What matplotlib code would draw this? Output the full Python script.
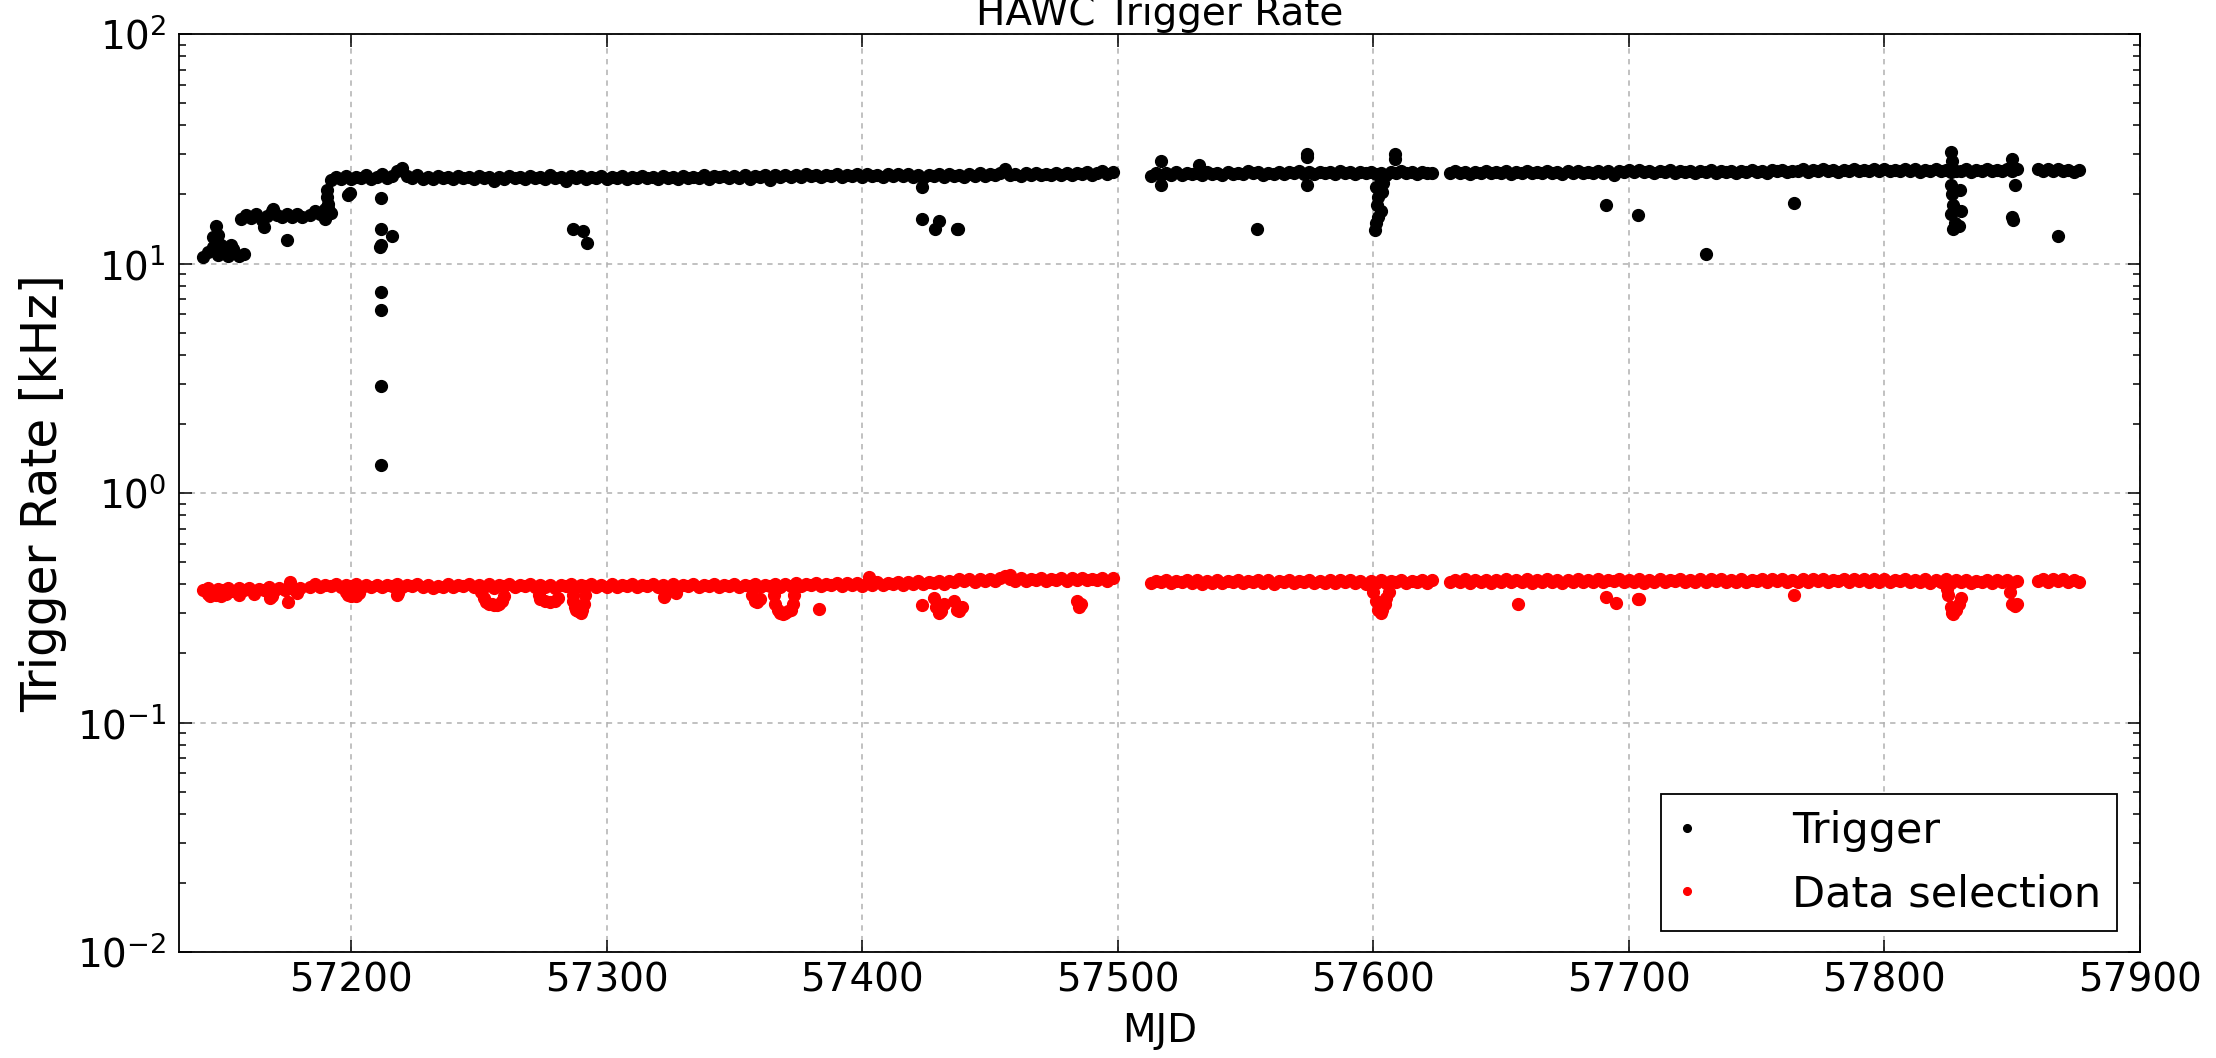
import numpy as np
import matplotlib
matplotlib.use("Agg")
import matplotlib.pyplot as plt

plt.rcParams["font.family"] = ["DejaVu Sans"]
plt.rcParams["axes.unicode_minus"] = False

STEP = 2  # days between band samples

# ---- Trigger rate [kHz], dense band, one value every STEP days per run
trig_starts = [57142, 57157, 57184, 57192, 57513, 57630, 57860]
trig_run1 = [10.7, 11.2, 11.8, 10.9, 11.3, 10.8, 11.4, 10.8, 11.0]
trig_run2 = [15.6, 16.2, 15.8, 16.4, 15.5, 16.1, 17.0, 16.3, 15.9, 16.5, 16.0, 16.4, 15.9]
trig_run3 = [16.3, 16.9, 16.5, 17.2, 16.6]
trig_run4 = [
    23.2, 23.9, 23.4, 24.1, 23.3, 23.8, 23.5, 24.2, 23.4, 23.9, 24.6, 23.5, 24.0, 25.2,
    26.0, 24.1, 23.6, 24.3, 23.4, 23.9, 23.3, 24.0, 23.5, 23.8, 23.4, 24.1, 23.6, 23.9,
    23.3, 24.0, 23.5, 23.8, 22.9, 23.9, 23.4, 24.1, 23.5, 23.9, 23.3, 24.0, 23.6, 23.8,
    23.4, 24.2, 23.5, 23.9, 22.8, 24.0, 23.6, 24.1, 23.4, 23.9, 23.5, 24.0, 23.3, 23.9,
    23.5, 24.0, 23.4, 23.9, 23.6, 24.1, 23.5, 23.8, 23.3, 24.0, 23.6, 23.9, 23.4, 24.1,
    23.6, 23.9, 23.5, 24.2, 23.4, 24.0, 23.7, 24.1, 23.5, 24.0, 23.6, 24.3, 23.4, 24.1,
    23.7, 24.3, 23.0, 24.2, 23.8, 24.4, 23.9, 24.3, 23.7, 24.5, 24.0, 24.4, 23.8, 24.3,
    24.0, 24.5, 23.9, 24.4, 24.1, 24.6, 23.9, 24.5, 24.0, 24.4, 23.9, 24.5, 24.1, 24.6,
    24.0, 24.5, 23.8, 24.4, 23.6, 24.3, 24.0, 24.6, 23.8, 24.5, 24.1, 24.4, 23.9, 24.6,
    24.1, 24.7, 24.0, 24.5, 24.2, 24.8, 25.8, 24.3, 24.6, 24.1, 24.7, 24.2, 24.9, 24.3,
    24.6, 24.2, 24.8, 24.4, 24.9, 24.3, 24.7, 24.5, 25.0, 24.4, 24.8, 25.3, 24.6, 25.0,
]
trig_run5 = [
    24.0, 24.8, 24.3, 24.9, 24.4, 25.0, 24.2, 24.8, 24.5, 24.9, 24.3, 25.0, 24.6, 24.9,
    24.4, 25.1, 24.6, 24.9, 24.5, 25.2, 24.7, 25.0, 24.4, 24.9, 24.6, 25.1, 24.5, 25.0,
    24.7, 25.2, 24.6, 25.0, 24.5, 25.1, 24.8, 25.0, 24.6, 25.2, 24.7, 25.0, 24.5, 25.1,
    24.8, 25.0, 24.6, 24.9, 24.4, 25.1, 24.7, 25.2, 24.8, 25.0, 24.6, 25.1, 24.7, 24.9,
]
trig_run6 = [
    24.7, 25.2, 24.8, 25.1, 24.6, 25.0, 24.9, 25.3, 24.7, 25.1, 24.8, 25.2, 24.6, 25.0,
    24.8, 25.2, 24.7, 25.1, 24.9, 25.3, 24.8, 25.0, 24.6, 25.2, 24.9, 25.3, 24.8, 25.1,
    24.9, 25.4, 24.7, 25.2, 24.4, 25.3, 25.0, 25.6, 25.1, 25.5, 25.0, 25.4, 24.9, 25.3,
    25.0, 25.5, 24.9, 25.3, 25.1, 25.4, 24.8, 25.3, 25.0, 25.5, 24.9, 25.3, 25.1, 25.4,
    24.9, 25.3, 25.0, 25.5, 25.1, 25.4, 24.9, 25.6, 25.2, 25.5, 25.0, 25.4, 25.2, 25.7,
    25.1, 25.6, 25.3, 25.7, 25.2, 25.5, 25.0, 25.6, 25.3, 25.8, 25.2, 25.6, 25.4, 25.9,
    25.3, 25.7, 25.2, 25.6, 25.4, 25.9, 25.3, 25.7, 25.1, 25.6, 25.4, 25.8, 25.2, 25.6,
    25.0, 25.4, 25.2, 25.7, 25.1, 25.5, 25.3, 25.8, 25.2, 25.6, 25.4, 25.9, 25.3, 25.7,
]
trig_run7 = [25.9, 25.4, 25.8, 25.3, 25.7, 25.2, 25.6, 25.1, 25.5]

# isolated trigger points (drops, spikes)
trig_extra_mjd = [
    57146, 57147, 57147.5, 57148, 57149, 57150, 57153, 57154, 57166, 57169.5, 57175,
    57190, 57190.5, 57190.5, 57191, 57191, 57199, 57199.8,
    57211.7, 57211.7, 57211.5, 57211.8, 57211.7, 57211.7, 57211.7, 57211.7, 57216.2,
    57286.8, 57290.7, 57292.5,
    57423.5, 57423.5, 57428.5, 57430, 57437, 57437.5,
    57517, 57517, 57532, 57554.7, 57574, 57574, 57574, 57608.5, 57608.5,
    57600.5, 57601, 57601, 57601.5, 57602, 57602, 57603, 57603.5, 57604,
    57691, 57703.4, 57730, 57764.5,
    57826, 57826.5, 57826, 57826.5, 57827, 57826, 57827.5, 57827, 57829, 57830, 57829.5,
    57850, 57850.2, 57850, 57851, 57867.8,
]
trig_extra_val = [
    13.0, 14.5, 12.5, 13.3, 12.0, 11.5, 12.0, 11.6, 14.4, 17.3, 12.6,
    15.6, 20.9, 19.5, 18.2, 17.4, 19.8, 20.2,
    19.2, 14.1, 11.8, 12.1, 7.5, 6.3, 2.92, 1.32, 13.2,
    14.2, 13.9, 12.3,
    21.6, 15.6, 14.1, 15.3, 14.2, 14.2,
    28.0, 22.0, 27.0, 14.2, 30.0, 29.0, 22.0, 30.0, 28.5,
    14.0, 15.0, 21.5, 18.0, 19.5, 16.0, 17.0, 20.5, 22.5,
    17.9, 16.3, 11.0, 18.4,
    30.5, 28.0, 22.0, 20.0, 18.0, 16.5, 15.0, 14.2, 14.5, 17.0, 21.0,
    16.0, 15.4, 28.5, 22.0, 13.2,
]

# ---- Data selection rate [kHz]
red_starts = [57142, 57184, 57513, 57630, 57860]
red_run1 = [0.376, 0.386, 0.372, 0.383, 0.378, 0.387, 0.374, 0.384, 0.377, 0.386,
            0.373, 0.383, 0.378, 0.388, 0.374, 0.384, 0.377, 0.386, 0.379, 0.387]
red_run2 = [
    0.391, 0.401, 0.388, 0.398, 0.393, 0.403, 0.389, 0.397, 0.392, 0.400, 0.387, 0.396, 0.391, 0.399,
    0.388, 0.397, 0.392, 0.401, 0.389, 0.398, 0.393, 0.402, 0.390, 0.397, 0.386, 0.395, 0.391, 0.400,
    0.389, 0.398, 0.392, 0.403, 0.388, 0.397, 0.391, 0.400, 0.387, 0.396, 0.392, 0.401, 0.389, 0.397,
    0.392, 0.402, 0.388, 0.398, 0.391, 0.399, 0.387, 0.397, 0.393, 0.401, 0.389, 0.398, 0.392, 0.400,
    0.388, 0.397, 0.391, 0.401, 0.389, 0.398, 0.393, 0.402, 0.390, 0.399, 0.392, 0.400, 0.389, 0.398,
    0.391, 0.401, 0.388, 0.399, 0.393, 0.402, 0.390, 0.398, 0.392, 0.403, 0.389, 0.399, 0.393, 0.401,
    0.390, 0.399, 0.392, 0.402, 0.389, 0.398, 0.393, 0.403, 0.391, 0.400, 0.394, 0.404, 0.392, 0.401,
    0.396, 0.405, 0.393, 0.403, 0.397, 0.406, 0.394, 0.404, 0.398, 0.407, 0.395, 0.405, 0.399, 0.408,
    0.398, 0.407, 0.401, 0.410, 0.399, 0.409, 0.402, 0.413, 0.400, 0.411, 0.404, 0.414, 0.402, 0.412,
    0.410, 0.420, 0.412, 0.422, 0.411, 0.421, 0.414, 0.424, 0.412, 0.428, 0.436, 0.423, 0.415, 0.425,
    0.413, 0.423, 0.416, 0.426, 0.414, 0.424, 0.417, 0.427, 0.415, 0.425, 0.418, 0.428, 0.416, 0.424,
    0.419, 0.427, 0.415, 0.425,
]
red_run3 = [
    0.405, 0.415, 0.408, 0.418, 0.404, 0.414, 0.409, 0.417, 0.406, 0.416, 0.403, 0.413, 0.407, 0.417,
    0.404, 0.414, 0.408, 0.418, 0.405, 0.415, 0.409, 0.419, 0.406, 0.416, 0.403, 0.414, 0.408, 0.417,
    0.405, 0.415, 0.409, 0.418, 0.404, 0.414, 0.407, 0.417, 0.405, 0.416, 0.409, 0.418, 0.406, 0.415,
    0.403, 0.413, 0.407, 0.416, 0.404, 0.415, 0.408, 0.417, 0.405, 0.414, 0.409, 0.418, 0.406, 0.416,
]
red_run4 = [
    0.408, 0.418, 0.411, 0.420, 0.407, 0.417, 0.410, 0.419, 0.406, 0.416, 0.411, 0.421, 0.408, 0.418,
    0.410, 0.420, 0.407, 0.417, 0.411, 0.421, 0.409, 0.419, 0.406, 0.418, 0.410, 0.420, 0.408, 0.419,
    0.411, 0.421, 0.408, 0.418, 0.412, 0.422, 0.409, 0.419, 0.411, 0.420, 0.407, 0.418, 0.410, 0.421,
    0.409, 0.419, 0.412, 0.422, 0.408, 0.418, 0.411, 0.421, 0.409, 0.420, 0.412, 0.422, 0.410, 0.419,
    0.411, 0.421, 0.408, 0.419, 0.412, 0.422, 0.410, 0.420, 0.413, 0.423, 0.409, 0.419, 0.411, 0.422,
    0.410, 0.420, 0.412, 0.423, 0.409, 0.419, 0.413, 0.422, 0.410, 0.421, 0.412, 0.423, 0.409, 0.420,
    0.411, 0.421, 0.408, 0.418, 0.412, 0.422, 0.409, 0.419, 0.411, 0.421, 0.407, 0.417, 0.410, 0.420,
    0.406, 0.416, 0.409, 0.419, 0.405, 0.415, 0.408, 0.418, 0.406, 0.417, 0.409, 0.419, 0.405, 0.414,
]
red_run5 = [0.412, 0.422, 0.410, 0.420, 0.413, 0.423, 0.409, 0.419, 0.411]

red_extra_mjd = [
    57144, 57145, 57147, 57149, 57151, 57156, 57162, 57168.5, 57169, 57175.3, 57176, 57179,
    57198, 57199, 57200, 57201, 57202, 57203, 57218, 57218.5,
    57251, 57252, 57253, 57254, 57255, 57256, 57257, 57258, 57259, 57260,
    57273.5, 57274, 57276, 57278, 57280, 57281,
    57286.8, 57287, 57287.5, 57288, 57289, 57290, 57290.5, 57291.3, 57291.5,
    57322.5, 57323, 57327, 57357, 57358, 57359, 57360,
    57365.5, 57366, 57367, 57368, 57369, 57370, 57371, 57372, 57373, 57373.5,
    57383, 57402.7, 57423.5, 57428, 57429, 57430, 57431, 57432,
    57436, 57437, 57438, 57439, 57458, 57484, 57485, 57485.5,
    57600, 57601, 57602, 57603, 57603.5, 57604.5, 57605, 57606,
    57656.5, 57691.2, 57695, 57703.6, 57704, 57764.7,
    57824.5, 57825, 57826, 57826.5, 57827, 57828, 57829, 57830,
    57849, 57850, 57851, 57852,
]
red_extra_val = [
    0.362, 0.356, 0.360, 0.357, 0.362, 0.360, 0.364, 0.348, 0.355, 0.336, 0.410, 0.365,
    0.372, 0.358, 0.356, 0.360, 0.357, 0.366, 0.360, 0.368,
    0.372, 0.350, 0.335, 0.330, 0.328, 0.326, 0.324, 0.330, 0.340, 0.355,
    0.360, 0.345, 0.338, 0.336, 0.338, 0.350,
    0.360, 0.340, 0.320, 0.310, 0.305, 0.300, 0.310, 0.330, 0.360,
    0.352, 0.360, 0.365, 0.360, 0.340, 0.336, 0.345,
    0.360, 0.330, 0.310, 0.300, 0.298, 0.300, 0.305, 0.310, 0.330, 0.360,
    0.313, 0.430, 0.325, 0.350, 0.320, 0.300, 0.305, 0.330,
    0.340, 0.310, 0.305, 0.320, 0.440, 0.340, 0.320, 0.330,
    0.370, 0.340, 0.310, 0.300, 0.310, 0.330, 0.350, 0.370,
    0.327, 0.353, 0.333, 0.344, 0.344, 0.360,
    0.380, 0.360, 0.320, 0.300, 0.297, 0.310, 0.330, 0.350,
    0.370, 0.330, 0.323, 0.330,
]


def build(starts, runs, extra_x, extra_y):
    xs, ys = [], []
    for s, vals in zip(starts, runs):
        xs.append(s + STEP * np.arange(len(vals)))
        ys.append(np.asarray(vals))
    xs.append(np.asarray(extra_x))
    ys.append(np.asarray(extra_y))
    return np.concatenate(xs), np.concatenate(ys)


trig_x, trig_y = build(trig_starts,
                       [trig_run1, trig_run2, trig_run3, trig_run4, trig_run5, trig_run6, trig_run7],
                       trig_extra_mjd, trig_extra_val)
red_x, red_y = build(red_starts, [red_run1, red_run2, red_run3, red_run4, red_run5],
                     red_extra_mjd, red_extra_val)

fig = plt.figure(figsize=(22.16, 10.58), dpi=100)
ax = fig.add_axes([178.7 / 2216, 1 - 952 / 1058, (2140 - 178.7) / 2216, (952 - 34) / 1058])

ax.plot(trig_x, trig_y, ls="none", marker=".", ms=17, color="k", mec="k", label="Trigger")
ax.plot(red_x, red_y, ls="none", marker=".", ms=17, color="r", mec="r", label="Data selection")

ax.set_yscale("log")
ax.set_ylim(1e-2, 1e2)
ax.set_xlim(57132.6, 57900)
ax.set_xticks([57200, 57300, 57400, 57500, 57600, 57700, 57800, 57900])

ax.grid(True, which="major", color="#b0b0b0", ls=(0, (3.5, 3.5)), lw=1.1)
ax.tick_params(which="both", direction="in", top=True, right=True, width=1.1)
ax.tick_params(which="major", length=9, labelsize=28)
ax.tick_params(which="minor", length=5)
ax.tick_params(axis="x", pad=7)
ax.tick_params(axis="y", pad=9)
for sp in ax.spines.values():
    sp.set_linewidth(1.3)

ax.set_title("HAWC Trigger Rate", fontsize=28, pad=6.5)
ax.set_xlabel("MJD", fontsize=28)
ax.xaxis.set_label_coords(0.5, -0.065)
ax.set_ylabel("Trigger Rate [kHz]", fontsize=35)
ax.yaxis.set_label_coords(-0.057, 0.5)

leg = ax.legend(loc="lower right", bbox_to_anchor=(0.9883, 0.0229), borderaxespad=0,
                numpoints=1, fontsize=31, fancybox=False, framealpha=1, edgecolor="k",
                borderpad=0.36, handlelength=0.5, handletextpad=2.2, labelspacing=0.5,
                markerscale=0.65)
leg.get_frame().set_linewidth(1.3)

fig.savefig("out.png", dpi=100)
